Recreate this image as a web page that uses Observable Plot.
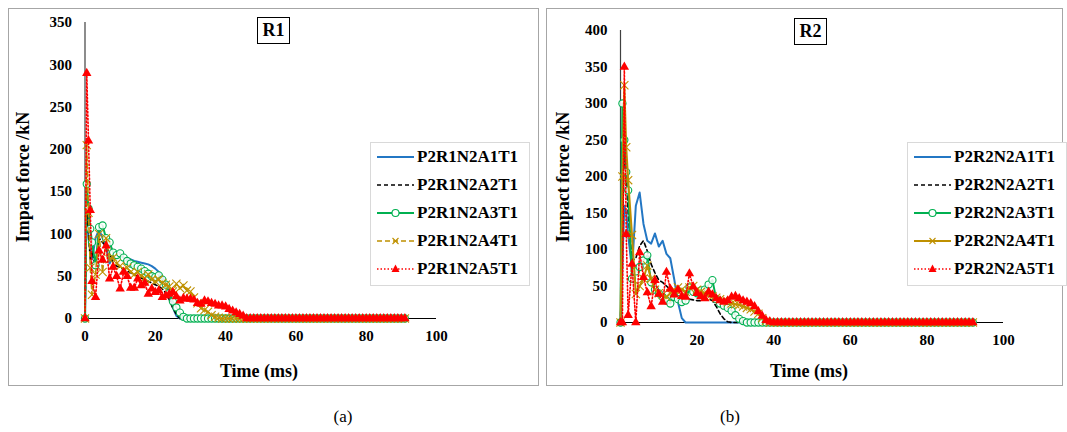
<!DOCTYPE html>
<html><head><meta charset="utf-8">
<script src="https://cdn.jsdelivr.net/npm/d3@7"></script>
<script src="https://cdn.jsdelivr.net/npm/@observablehq/plot@0.6"></script>
<style>
html,body{margin:0;padding:0;background:#fff;}
#root{position:relative;width:1067px;height:432px;overflow:hidden;background:#fff;font-family:"Liberation Serif","Times New Roman",serif;color:#000;}
.frame{position:absolute;border:1px solid #a6a6a6;box-sizing:border-box;}
.abs{position:absolute;white-space:nowrap;}
.tbox{position:absolute;border:1px solid #000;box-sizing:border-box;font-weight:bold;font-size:18px;text-align:center;}
.lg{position:absolute;border:1px solid #d9d9d9;box-sizing:border-box;background:#fff;}
.lgtext{position:absolute;font-weight:bold;font-size:17px;white-space:nowrap;line-height:20px;}
.ytitle{position:absolute;font-weight:bold;font-size:18px;white-space:nowrap;transform:translate(-50%,-50%) rotate(-90deg);}
.xtitle{position:absolute;font-weight:bold;font-size:18px;white-space:nowrap;transform:translate(-50%,-50%);}
.cap{position:absolute;font-size:17px;white-space:nowrap;transform:translate(-50%,-50%);}
svg{position:absolute;}
</style>
</head><body>
<div id="root"></div>
<script>
// ---- shared sample times (ms) ----
const time = [0,0.5,1,1.5,2,3,4,5,6,7,8,9,10,11,12,13,14,15,16,17,18,19,20,21,22,23,24,25,26,27,28,29,30,31,32,33,34,35,36,37,38,39,40,41,42,43,44,45,46,47,48,49,50,51,52,53,54,55,56,57,58,59,60,61,62,63,64,65,66,67,68,69,70,71,72,73,74,75,76,77,78,79,80,81,82,83,84,85,86,87,88,89,90,91,92];
const xTicks = [0,20,40,60,80,100];
const yTicksR1 = [0,50,100,150,200,250,300,350];
const yTicksR2 = [0,50,100,150,200,250,300,350,400];
const namesR1 = ["P2R1N2A1T1","P2R1N2A2T1","P2R1N2A3T1","P2R1N2A4T1","P2R1N2A5T1"];
const namesR2 = ["P2R2N2A1T1","P2R2N2A2T1","P2R2N2A3T1","P2R2N2A4T1","P2R2N2A5T1"];

// ---- R1 series (kN) ----
const r1A1 = [0,150,95,80,70, 95,105,95,85,65,75,78,75,72,70,70,68,67,66,65,64,62,59,55,50,42,28,13,3,0,
0,0,0,0,0,0,0,0,0,0,
0,0,0,0,0,0,0,0,0,0,
0,0,0,0,0,0,0,0,0,0,
0,0,0,0,0,0,0,0,0,0,
0,0,0,0,0,0,0,0,0,0,
0,0,0,0,0,0,0,0,0,0,
0,0,0,0];
const r1A2 = [0,140,100,70,80, 60,95,90,85,78,65,62,60,58,56,54,52,50,48,46,44,42,40,38,35,30,22,12,5,0,
0,0,0,0,0,0,0,0,0,0,
0,0,0,0,0,0,0,0,0,0,
0,0,0,0,0,0,0,0,0,0,
0,0,0,0,0,0,0,0,0,0,
0,0,0,0,0,0,0,0,0,0,
0,0,0,0,0,0,0,0,0,0,
0,0,0,0];
const r1A3 = [0,159,130,106,90, 63,108,110,95,90,78,75,77,72,68,65,63,61,59,56,53,50,49,51,46,40,30,20,13,7,2,0,
0,0,0,0,0,0,0,0,0,0,
0,0,0,0,0,0,0,0,0,0,
0,0,0,0,0,0,0,0,0,0,
0,0,0,0,0,0,0,0,0,0,
0,0,0,0,0,0,0,0,0,0,
0,0,0,0,0,0,0,0,0,0,
0,0];
const r1A4 = [0,205,125,60,28, 52,100,55,95,70,72,65,62,58,60,55,52,55,50,48,52,46,44,46,42,40,38,32,41,36,39,33,32,25,18,12,10,8,4,2,1,0,
0,0,0,0,0,0,0,0,0,0,
0,0,0,0,0,0,0,0,0,0,
0,0,0,0,0,0,0,0,0,0,
0,0,0,0,0,0,0,0,0,0,
0,0,0,0,0,0,0,0,0,0,
0,0];
const r1A5 = [0,290,210,128,44, 25,80,69,86,47,61,50,35,55,50,36,36,47,39,42,29,35,31,33,25,27,29,31,26,21,24,23,23,22,18,17,21,20,18,17,15,15,14,11,9,7,5,3,0,
0,0,0,0,0,0,0,0,0,0,
0,0,0,0,0,0,0,0,0,0,
0,0,0,0,0,0,0,0,0,0,
0,0,0,0,0,0,0,0,0,0,
0,0,0,0,0];

// ---- R2 series (kN) ----
const r2A1 = [0,80,160,150,120, 72,160,178,135,112,108,122,104,112,94,88,60,28,6,0,
0,0,0,0,0,0,0,0,0,0,
0,0,0,0,0,0,0,0,0,0,
0,0,0,0,0,0,0,0,0,0,
0,0,0,0,0,0,0,0,0,0,
0,0,0,0,0,0,0,0,0,0,
0,0,0,0,0,0,0,0,0,0,
0,0,0,0,0,0,0,0,0,0,
0,0,0,0,0];
const r2A2 = [0,120,240,200,150, 85,88,105,112,98,80,68,58,55,50,45,40,36,34,33,32,31,30,30,31,32,30,22,12,5,1,0,
0,0,0,0,0,0,0,0,0,0,
0,0,0,0,0,0,0,0,0,0,
0,0,0,0,0,0,0,0,0,0,
0,0,0,0,0,0,0,0,0,0,
0,0,0,0,0,0,0,0,0,0,
0,0,0,0,0,0,0,0,0,0,
0,0,0];
const r2A3 = [0,300,250,206,181, 60,70,76,85,92,55,45,40,35,30,26,35,32,28,30,48,42,40,44,45,52,58,32,26,23,20,16,10,5,2,0,
0,0,0,0,0,0,0,0,0,0,
0,0,0,0,0,0,0,0,0,0,
0,0,0,0,0,0,0,0,0,0,
0,0,0,0,0,0,0,0,0,0,
0,0,0,0,0,0,0,0,0,0,
0,0,0,0,0,0,0,0,0];
const r2A4 = [0,200,325,240,195, 120,39,50,60,78,60,45,40,38,35,40,45,48,45,42,48,50,45,42,40,38,36,34,32,30,28,26,25,24,22,20,18,15,12,6,2,0,
0,0,0,0,0,0,0,0,0,0,
0,0,0,0,0,0,0,0,0,0,
0,0,0,0,0,0,0,0,0,0,
0,0,0,0,0,0,0,0,0,0,
0,0,0,0,0,0,0,0,0,0,
0,0,0];
const r2A5 = [0,0,350,121,10, 80,0,96,62,41,22,58,39,28,69,46,38,45,36,35,67,49,40,36,33,42,38,33,30,28,30,35,36,33,30,28,26,22,15,9,3,1,0,
0,0,0,0,0,0,0,0,0,0,
0,0,0,0,0,0,0,0,0,0,
0,0,0,0,0,0,0,0,0,0,
0,0,0,0,0,0,0,0,0,0,
0,0,0,0,0,0,0,0,0,0,
0,0];

// ---- styles ----
const BLUE="#2377c4", BLACK="#000000", GREEN="#00b050", GOLD="#bf9000", RED="#ff0000";
function styles(goldDashed){
  return [
    {stroke:BLUE, w:2, dash:null, sym:null},
    {stroke:BLACK, w:1.6, dash:"4,3", sym:null},
    {stroke:GREEN, w:2, dash:null, sym:"circle"},
    {stroke:GOLD, w:goldDashed?1.6:2, dash:goldDashed?"5,3":null, sym:"times"},
    {stroke:RED, w:1.6, dash:"1.5,2", sym:"triangle"}
  ];
}

const root = document.getElementById("root");
function el(cls, html, css){const d=document.createElement("div");d.className=cls;d.innerHTML=html;Object.assign(d.style,css);root.appendChild(d);return d;}

function rows(values){ return values.map((v,i)=>({t:time[i], v})).filter(d=>d.t!==undefined); }

function makePanel(o){
  const st = styles(o.goldDashed);
  const marks = [
    Plot.axisX({ticks:xTicks, tickSize:0, tickPadding:12, label:null}),
    Plot.axisY({ticks:o.yTicks, tickSize:0, tickPadding:13, label:null}),
    Plot.ruleY([0], {stroke:"#000", strokeWidth:1.2}),
    Plot.ruleX([0], {stroke:"#404040", strokeWidth:1.2})
  ];
  o.series.forEach((vals,k)=>{
    const s = st[k]; const data = rows(vals);
    marks.push(Plot.line(data,{x:"t",y:"v",stroke:s.stroke,strokeWidth:s.w,strokeDasharray:s.dash||undefined}));
    if(s.sym==="circle") marks.push(Plot.dot(data,{x:"t",y:"v",symbol:"circle",r:3.6,stroke:s.stroke,strokeWidth:1.1,fill:"#ffffff",fillOpacity:0.85}));
    if(s.sym==="times") marks.push(Plot.dot(data,{x:"t",y:"v",symbol:"times",r:3.8,stroke:s.stroke,strokeWidth:1.1}));
    if(s.sym==="triangle") marks.push(Plot.dot(data,{x:"t",y:"v",symbol:"triangle",r:3.5,fill:s.stroke,stroke:"none"}));
  });
  const svg = Plot.plot({
    width:o.w, height:o.h,
    marginLeft:o.ml, marginRight:o.mr, marginTop:o.mt, marginBottom:o.mb,
    x:{domain:[0,100]}, y:{domain:o.yDomain},
    style:{fontFamily:'"Liberation Serif","Times New Roman",serif', fontSize:"15px", fontWeight:"bold", color:"#000", background:"transparent", overflow:"visible"},
    marks
  });
  svg.style.left = o.left+"px"; svg.style.top = o.top+"px";
  root.appendChild(svg);

  el("frame","",{left:o.left+"px",top:o.top+"px",width:(o.w+1)+"px",height:(o.h+1)+"px"});
  el("tbox",o.title,{left:o.tx+"px",top:o.ty+"px",width:o.tw+"px",height:"27px",lineHeight:"25px"});
  el("ytitle","Impact force /kN",{left:o.ytx+"px",top:"177px"});
  el("xtitle","Time (ms)",{left:o.xtx+"px",top:"371px"});
  el("lg","",{left:o.lx+"px",top:"142px",width:o.lw+"px",height:"144px"});
  o.names.forEach((n,k)=>{
    const s = st[k]; const cy = 157 + k*28;
    let sw = `<line x1="0" y1="7" x2="37" y2="7" stroke="${s.stroke}" stroke-width="${s.w}" ${s.dash?`stroke-dasharray="${s.dash}"`:""}/>`;
    if(s.sym==="circle") sw += `<circle cx="18.5" cy="7" r="3.5" fill="#fff" stroke="${s.stroke}" stroke-width="1.1"/>`;
    if(s.sym==="times") sw += `<path d="M15.5,4L21.5,10M21.5,4L15.5,10" stroke="${s.stroke}" stroke-width="1.1"/>`;
    if(s.sym==="triangle") sw += `<path d="M18.5,2.5L22.5,10L14.5,10Z" fill="${s.stroke}"/>`;
    const d = document.createElement("div");
    d.innerHTML = `<svg width="38" height="14" style="position:absolute;left:${o.lx+7}px;top:${cy-7}px;overflow:visible">${sw}</svg>`;
    root.appendChild(d.firstChild);
    el("lgtext",n,{left:(o.lx+47)+"px",top:(cy-10)+"px"});
  });
}

makePanel({left:8, top:8, w:530, h:377, ml:76.5, mr:102, mt:14, mb:67, yDomain:[0,350], yTicks:yTicksR1,
  series:[r1A1,r1A2,r1A3,r1A4,r1A5], names:namesR1, goldDashed:true,
  title:"R1", tx:257, ty:17, tw:33, ytx:23, xtx:259, lx:370, lw:160});
makePanel({left:546, top:8, w:516, h:377, ml:74, mr:59, mt:22, mb:63, yDomain:[0,400], yTicks:yTicksR2,
  series:[r2A1,r2A2,r2A3,r2A4,r2A5], names:namesR2, goldDashed:false,
  title:"R2", tx:794, ty:18, tw:33, ytx:563, xtx:809, lx:907, lw:160});

el("cap","(a)",{left:"343px",top:"417px"});
el("cap","(b)",{left:"730px",top:"417px"});
</script>
</body></html>
